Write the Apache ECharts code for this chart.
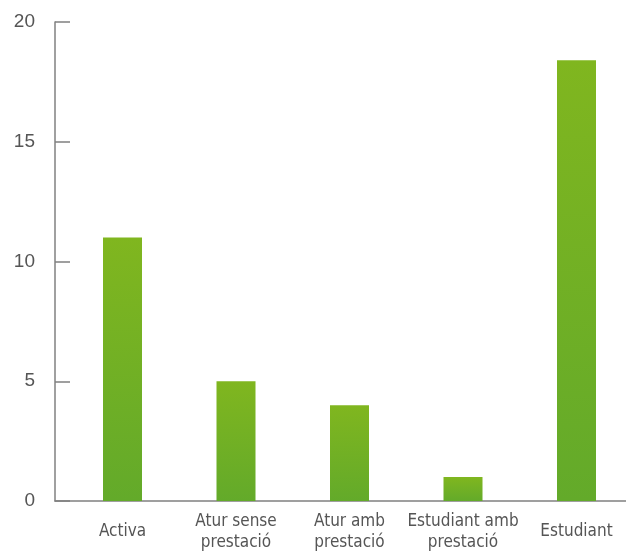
<!DOCTYPE html>
<html>
<head>
<meta charset="utf-8">
<script src="https://cdn.jsdelivr.net/npm/echarts@6/dist/echarts.min.js"></script>
<style>
html,body{margin:0;padding:0;background:#fff;overflow:hidden;}
#chart{width:640px;height:555px;}
</style>
</head>
<body>
<div id="chart"></div>
<script>
var categories = ['Activa', 'Atur sense\nprestació', 'Atur amb\nprestació', 'Estudiant amb\nprestació', 'Estudiant'];
var values = [11, 5, 4, 1, 18.4];
var yTicks = [0, 5, 10, 15, 20];

var chart = echarts.init(document.getElementById('chart'));
chart.setOption({
  animation: false,
  grid: [
    {left: 65.75, top: 22, width: 567.5, bottom: 54},
    {left: 55, top: 22, right: 14, bottom: 54}
  ],
  xAxis: [
    {
      type: 'category', gridIndex: 0, data: categories,
      axisLine: {show: false}, axisTick: {show: false},
      axisLabel: {
        interval: 0, margin: 31, verticalAlign: 'middle', lineHeight: 21,
        fontFamily: '"DejaVu Sans Condensed", sans-serif',
        fontSize: 17, color: '#555555'
      }
    },
    {
      type: 'value', gridIndex: 1, min: 0, max: 1,
      axisLine: {show: true, lineStyle: {color: '#808080', width: 1.5}},
      axisTick: {show: false}, axisLabel: {show: false}, splitLine: {show: false}
    }
  ],
  yAxis: [
    {type: 'value', gridIndex: 0, min: yTicks[0], max: yTicks[yTicks.length - 1], show: false},
    {
      type: 'value', gridIndex: 1, min: yTicks[0], max: yTicks[yTicks.length - 1], interval: 5,
      axisLine: {show: true, lineStyle: {color: '#808080', width: 1.5}},
      axisTick: {show: true, inside: true, length: 15, lineStyle: {color: '#808080', width: 1.5}},
      axisLabel: {margin: 20, fontFamily: '"Liberation Sans", sans-serif', fontSize: 19, color: '#555555'},
      splitLine: {show: false}
    }
  ],
  series: [{
    type: 'bar', xAxisIndex: 0, yAxisIndex: 0, data: values, barWidth: 39,
    itemStyle: {
      color: new echarts.graphic.LinearGradient(0, 0, 0, 1, [
        {offset: 0, color: '#80b61f'},
        {offset: 1, color: '#63aa2a'}
      ])
    }
  }]
});
</script>
</body>
</html>
